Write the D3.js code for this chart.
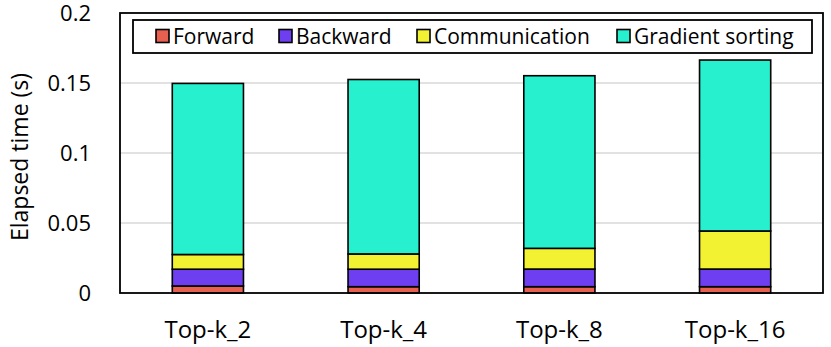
<!DOCTYPE html>
<html>
<head>
<meta charset="utf-8">
<script src="https://cdn.jsdelivr.net/npm/d3@7"></script>
<style>
  body { margin: 0; background: #fff; }
  text { font-family: "Open Sans", Lato, "Liberation Sans", sans-serif; fill: #000; }
</style>
</head>
<body>
<script>
const categories = ["Top-k_2", "Top-k_4", "Top-k_8", "Top-k_16"];
const seriesNames = ["Forward", "Backward", "Communication", "Gradient sorting"];
const forward = [0.005, 0.0045, 0.0045, 0.0045];
const backward = [0.012, 0.0125, 0.0126, 0.0126];
const communication = [0.0105, 0.0109, 0.0148, 0.0272];
const gradientSorting = [0.1222, 0.1246, 0.1233, 0.1221];
const yTicks = [0, 0.05, 0.1, 0.15, 0.2];
const yTickLabels = ["0", "0.05", "0.1", "0.15", "0.2"];

const colors = ["#e8604f", "#6e3ff0", "#f2f232", "#26f0cd"];

const width = 831, height = 347;
const margin = { top: 13, right: 8, bottom: 54, left: 120 };

const rows = categories.map((c, i) => ({
  cat: c,
  "Forward": forward[i],
  "Backward": backward[i],
  "Communication": communication[i],
  "Gradient sorting": gradientSorting[i],
}));

const stack = d3.stack().keys(seriesNames)(rows);

const svg = d3.select("body").append("svg")
  .attr("width", width).attr("height", height);

const x = d3.scaleBand()
  .domain(categories)
  .range([margin.left, width - margin.right])
  .paddingInner(0.595)
  .paddingOuter(0.2975);

const y = d3.scaleLinear()
  .domain([0, 0.2])
  .range([height - margin.bottom, margin.top]);

// gridlines
svg.append("g")
  .selectAll("line")
  .data(yTicks.slice(1, -1))
  .enter().append("line")
  .attr("x1", margin.left).attr("x2", width - margin.right)
  .attr("y1", d => y(d)).attr("y2", d => y(d))
  .attr("stroke", "#d9d9d9").attr("stroke-width", 1.5);

// bars
svg.append("g")
  .selectAll("g")
  .data(stack)
  .enter().append("g")
  .attr("fill", (d, i) => colors[i])
  .selectAll("rect")
  .data(d => d)
  .enter().append("rect")
  .attr("x", d => x(d.data.cat))
  .attr("width", x.bandwidth())
  .attr("y", d => y(d[1]))
  .attr("height", d => y(d[0]) - y(d[1]))
  .attr("stroke", "#000").attr("stroke-width", 1.6);

// frame
svg.append("rect")
  .attr("x", margin.left).attr("y", margin.top)
  .attr("width", width - margin.left - margin.right)
  .attr("height", height - margin.top - margin.bottom)
  .attr("fill", "none").attr("stroke", "#000").attr("stroke-width", 1.8);

// y axis labels
svg.append("g")
  .selectAll("text")
  .data(yTicks)
  .enter().append("text")
  .attr("x", 91).attr("y", d => y(d))
  .attr("dy", "0.36em")
  .attr("text-anchor", "end")
  .attr("font-size", 22)
  .text((d, i) => yTickLabels[i]);

svg.append("text")
  .attr("transform", `translate(20,157) rotate(-90)`)
  .attr("text-anchor", "middle")
  .attr("dy", "0.36em")
  .attr("font-size", 23)
  .text("Elapsed time (s)");

// x labels
svg.append("g")
  .selectAll("text")
  .data(categories)
  .enter().append("text")
  .attr("x", d => x(d) + x.bandwidth() / 2)
  .attr("y", 338)
  .attr("text-anchor", "middle")
  .attr("font-size", 24)
  .text(d => d);

// legend
const legend = svg.append("g");
legend.append("rect")
  .attr("x", 133).attr("y", 20)
  .attr("width", 679).attr("height", 33)
  .attr("fill", "#fff").attr("stroke", "#000").attr("stroke-width", 1.8);

const legendX = [156, 279, 417, 617];
const item = legend.selectAll("g.item")
  .data(seriesNames)
  .enter().append("g")
  .attr("transform", (d, i) => `translate(${legendX[i]},36)`);
item.append("rect")
  .attr("x", 0).attr("y", -6.5)
  .attr("width", 13).attr("height", 13)
  .attr("fill", (d, i) => colors[i])
  .attr("stroke", "#000").attr("stroke-width", 1.6);
item.append("text")
  .attr("x", 17).attr("y", 0)
  .attr("dy", "0.36em")
  .attr("font-size", 21)
  .text(d => d);
</script>
</body>
</html>
